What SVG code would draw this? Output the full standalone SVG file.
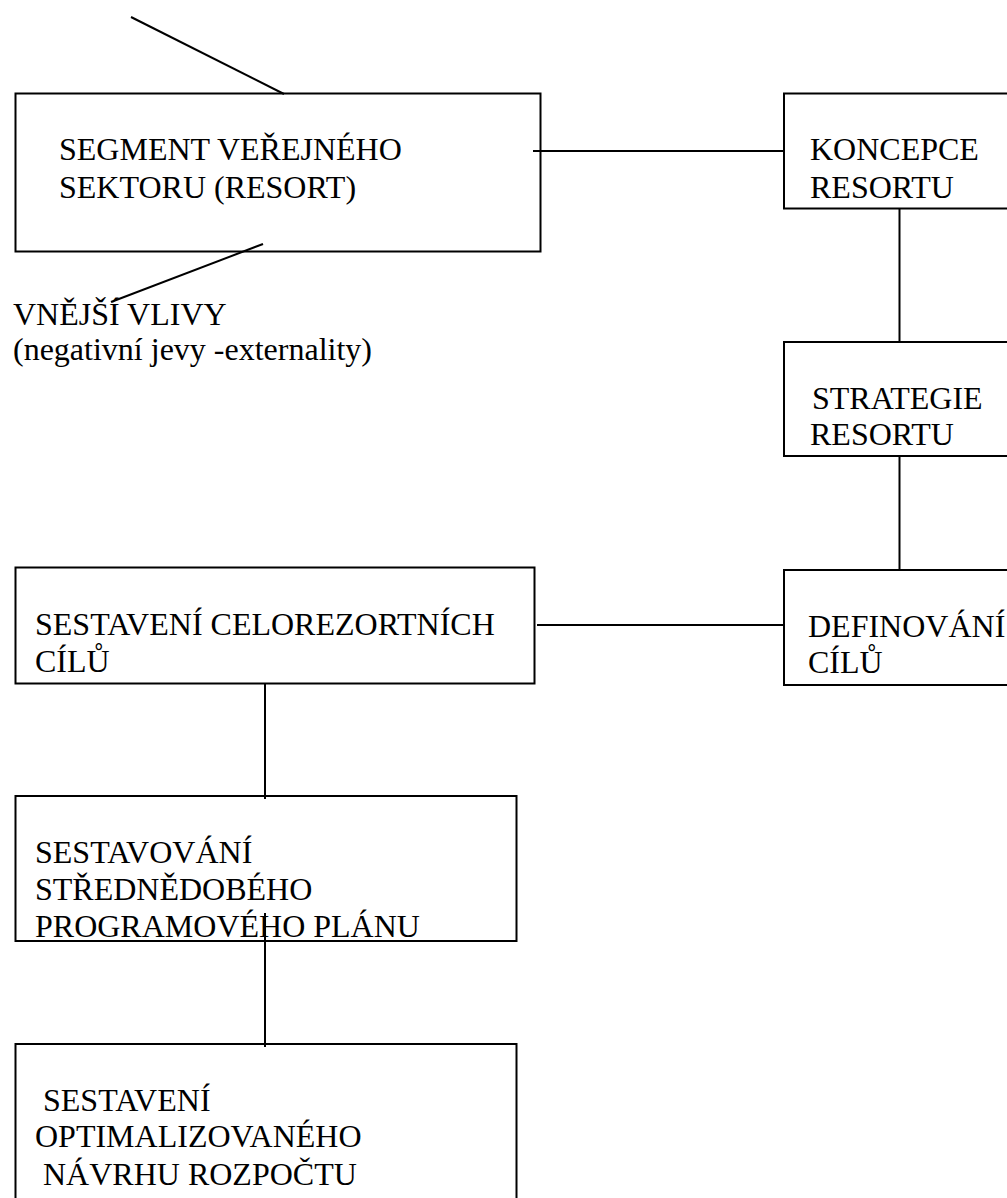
<svg xmlns="http://www.w3.org/2000/svg" width="1007" height="1198" viewBox="0 0 1007 1198">
<style>
.box{fill:#fff;stroke:#000;stroke-width:2}
.ln{stroke:#000;stroke-width:2;fill:none}
.t{font-family:'Liberation Serif','Times New Roman',serif;font-size:32px;fill:#000}
</style>
<rect width="1007" height="1198" fill="#fff"/>
<g id="segment">
<rect class="box" x="15.5" y="93.5" width="525" height="158"/>
<text class="t" x="59" y="160">SEGMENT VEŘEJNÉHO</text>
<text class="t" x="59" y="198">SEKTORU (RESORT)</text>
</g>
<g id="vnejsi-vlivy">
<text class="t" x="13" y="325">VNĚJŠÍ VLIVY</text>
<text class="t" x="13" y="360">(negativní jevy -externality)</text>
</g>
<g id="koncepce">
<rect class="box" x="784" y="93.5" width="240" height="115"/>
<text class="t" x="810" y="160">KONCEPCE</text>
<text class="t" x="810" y="198">RESORTU</text>
</g>
<g id="strategie">
<rect class="box" x="784" y="342" width="240" height="114"/>
<text class="t" x="812" y="409">STRATEGIE</text>
<text class="t" x="810" y="445">RESORTU</text>
</g>
<g id="definovani">
<rect class="box" x="784" y="570" width="240" height="115"/>
<text class="t" x="808" y="637">DEFINOVÁNÍ</text>
<text class="t" x="808" y="673">CÍLŮ</text>
</g>
<g id="celorezortni">
<rect class="box" x="15.5" y="567.5" width="519" height="116"/>
<text class="t" x="35" y="635">SESTAVENÍ CELOREZORTNÍCH</text>
<text class="t" x="35" y="672">CÍLŮ</text>
</g>
<g id="strednedoby">
<rect class="box" x="15.5" y="796" width="501" height="145"/>
<text class="t" x="35" y="863">SESTAVOVÁNÍ</text>
<text class="t" x="35" y="900">STŘEDNĚDOBÉHO</text>
<text class="t" x="35" y="937">PROGRAMOVÉHO PLÁNU</text>
</g>
<g id="rozpocet">
<rect class="box" x="15.5" y="1044" width="501" height="200"/>
<text class="t" x="43" y="1111">SESTAVENÍ</text>
<text class="t" x="35" y="1147">OPTIMALIZOVANÉHO</text>
<text class="t" x="43" y="1185">NÁVRHU ROZPOČTU</text>
</g>
<g id="connectors">
<line class="ln" x1="131" y1="17" x2="284" y2="94"/>
<line class="ln" x1="263" y1="244" x2="111" y2="302"/>
<line class="ln" x1="533" y1="151" x2="784" y2="151"/>
<line class="ln" x1="899.5" y1="208" x2="899.5" y2="343"/>
<line class="ln" x1="899.5" y1="456" x2="899.5" y2="571"/>
<line class="ln" x1="537" y1="625" x2="784" y2="625"/>
<line class="ln" x1="265" y1="683" x2="265" y2="799"/>
<line class="ln" x1="265" y1="913" x2="265" y2="1047"/>
</g>
</svg>
